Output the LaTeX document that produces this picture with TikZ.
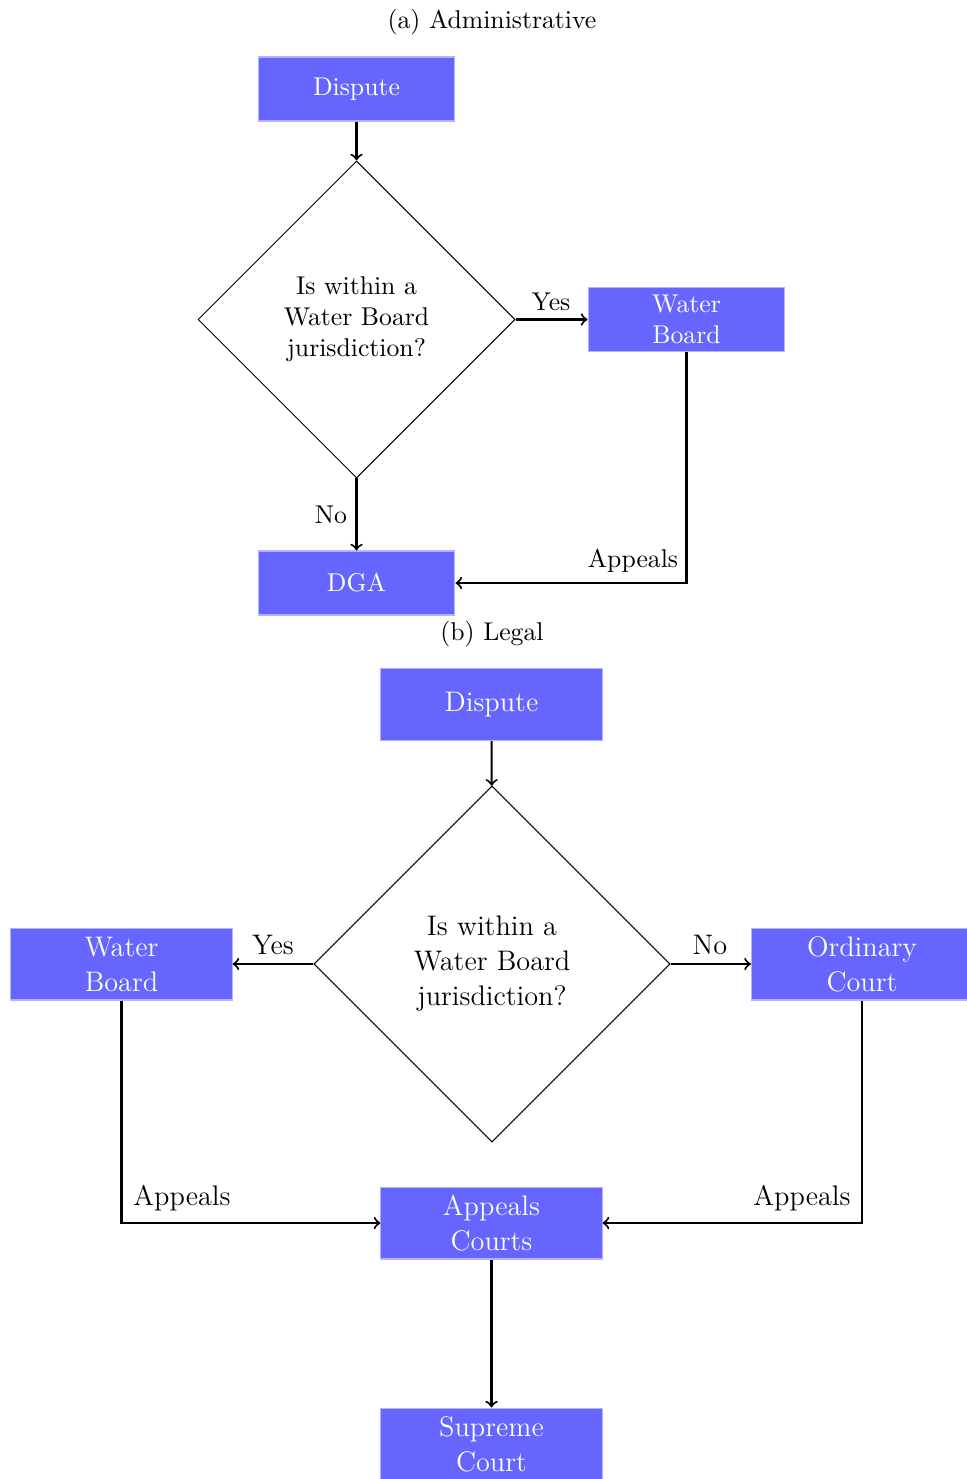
\documentclass[tikz,border=0pt]{standalone}
\usetikzlibrary{shapes.geometric}
\begin{document}
\begin{tikzpicture}[x=0.389pt,y=-0.389pt,
  boxA/.style={rectangle,draw=blue!30,fill=blue!60,text=white,align=center,
    minimum width=76.6pt,minimum height=24.9pt,inner sep=0pt,text width=70pt,font=\fontsize{10}{12}\selectfont},
  boxB/.style={rectangle,draw=blue!30,fill=blue!60,text=white,align=center,
    minimum width=86pt,minimum height=28pt,inner sep=0pt,text width=80pt,font=\fontsize{11}{13.6}\selectfont},
  decA/.style={diamond,draw,inner sep=0pt,minimum width=123.3pt,minimum height=123.3pt,align=center,font=\fontsize{10}{12}\selectfont},
  decB/.style={diamond,draw,inner sep=0pt,minimum width=138.5pt,minimum height=138.5pt,align=center,font=\fontsize{11}{13.6}\selectfont},
  conn/.style={thick,->},
  lblA/.style={font=\fontsize{10}{12}\selectfont,inner sep=0pt},
  lblB/.style={font=\fontsize{11}{13.6}\selectfont,inner sep=0pt}]
\useasboundingbox (0,0) rectangle (967,1479);
% (a)
\node[lblA] (titleA) at (492,22) {(a) Administrative};
\node[boxA] (dispA) at (356.5,89) {Dispute};
\node[decA] (decA) at (356.5,319.5) {Is within a\\Water Board\\jurisdiction?};
\node[boxA] (wbA) at (686.5,319.5) {Water\\Board};
\node[boxA] (dgaA) at (356.5,583) {DGA};
\draw[conn] (dispA) -- (decA);
\draw[conn] (decA.east) -- (wbA.west);
\draw[conn] (decA.south) -- (dgaA.north);
\draw[conn] (wbA.south) |- (dgaA.east);
\node[lblA] (yesA) at (551,302) {Yes};
\node[lblA] (noA) at (331,515) {No};
\node[lblA] (appA) at (633,561) {Appeals};
% (b)
\node[lblA] (titleB) at (492,634) {(b) Legal};
\node[boxB] (dispB) at (491.5,704.5) {Dispute};
\node[decB] (decB) at (492,964) {Is within a\\Water Board\\jurisdiction?};
\node[boxB] (wbB) at (121.5,964) {Water\\Board};
\node[boxB] (ocB) at (862,964) {Ordinary\\Court};
\node[boxB] (acB) at (491.5,1223) {Appeals\\Courts};
\node[boxB] (scB) at (491.5,1444) {Supreme\\Court};
\draw[conn] (dispB) -- (decB);
\draw[conn] (decB.west) -- (wbB.east);
\draw[conn] (decB.east) -- (ocB.west);
\draw[conn] (wbB.south) |- (acB.west);
\draw[conn] (ocB.south) |- (acB.east);
\draw[conn] (acB) -- (scB);
\node[lblB] (yesB) at (273,945) {Yes};
\node[lblB] (noB) at (710,945) {No};
\node[lblB] (appB1) at (182,1198) {Appeals};
\node[lblB] (appB2) at (802,1198) {Appeals};
\end{tikzpicture}
\end{document}
